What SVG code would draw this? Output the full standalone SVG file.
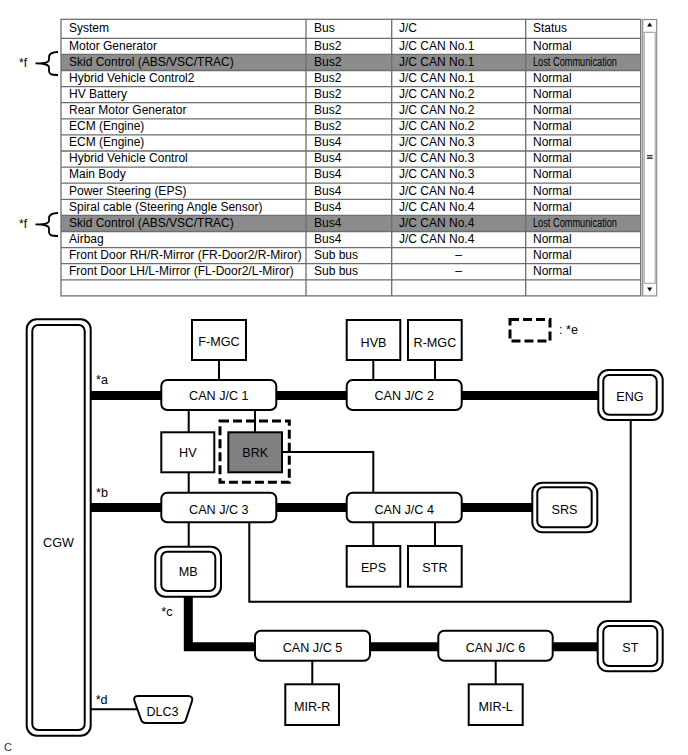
<svg xmlns="http://www.w3.org/2000/svg" width="688" height="755" viewBox="0 0 688 755">
<style>
.t{font-family:"Liberation Sans",Arial,sans-serif;font-size:12px;fill:#000}
.lc{font-size:12px}
.n{font-family:"Liberation Sans",Arial,sans-serif;font-size:12.6px;fill:#000;text-anchor:middle}
.lb{font-family:"Liberation Sans",Arial,sans-serif;font-size:12.6px;fill:#000}
.box{fill:#fff;stroke:#000;stroke-width:2}
.bus{stroke:#000;stroke-width:9;fill:none}
.wire{stroke:#000;stroke-width:2;fill:none}
.grid{stroke:#6e6e6e;stroke-width:1.3;fill:none}
.dash{fill:none;stroke:#000;stroke-width:3;stroke-dasharray:9 4}
.brace{fill:none;stroke:#000;stroke-width:1.8}
</style>

<g id="table">
  <rect x="61" y="19.3" width="579.7" height="276.6" fill="#fff"/>
  <rect x="61" y="54.4" width="579.7" height="16.1" fill="#8c8c8c"/>
  <rect x="61" y="215.4" width="579.7" height="16.1" fill="#8c8c8c"/>
  <g class="grid">
    <rect x="61" y="19.3" width="579.7" height="276.6"/>
    <path d="M61 38.3H640.7M61 54.4H640.7M61 70.5H640.7M61 86.6H640.7M61 102.7H640.7M61 118.8H640.7M61 134.9H640.7M61 151H640.7M61 167.1H640.7M61 183.2H640.7M61 199.3H640.7M61 215.4H640.7M61 231.5H640.7M61 247.6H640.7M61 263.7H640.7M61 279.8H640.7"/>
    <path d="M306 19.3V295.9M391.7 19.3V295.9M525.7 19.3V295.9"/>
  </g>
  <g class="t">
    <text x="69" y="32">System</text><text x="314" y="32">Bus</text><text x="399" y="32">J/C</text><text x="533" y="32">Status</text>
    <text x="69" y="49.6">Motor Generator</text><text x="314" y="49.6">Bus2</text><text x="399" y="49.6">J/C CAN No.1</text><text x="533" y="49.6">Normal</text>
    <text x="69" y="65.7">Skid Control (ABS/VSC/TRAC)</text><text x="314" y="65.7">Bus2</text><text x="399" y="65.7">J/C CAN No.1</text><text class="lc" x="533" y="65.7" textLength="84" lengthAdjust="spacingAndGlyphs">Lost Communication</text>
    <text x="69" y="81.8">Hybrid Vehicle Control2</text><text x="314" y="81.8">Bus2</text><text x="399" y="81.8">J/C CAN No.1</text><text x="533" y="81.8">Normal</text>
    <text x="69" y="97.9">HV Battery</text><text x="314" y="97.9">Bus2</text><text x="399" y="97.9">J/C CAN No.2</text><text x="533" y="97.9">Normal</text>
    <text x="69" y="114">Rear Motor Generator</text><text x="314" y="114">Bus2</text><text x="399" y="114">J/C CAN No.2</text><text x="533" y="114">Normal</text>
    <text x="69" y="130.1">ECM (Engine)</text><text x="314" y="130.1">Bus2</text><text x="399" y="130.1">J/C CAN No.2</text><text x="533" y="130.1">Normal</text>
    <text x="69" y="146.2">ECM (Engine)</text><text x="314" y="146.2">Bus4</text><text x="399" y="146.2">J/C CAN No.3</text><text x="533" y="146.2">Normal</text>
    <text x="69" y="162.3">Hybrid Vehicle Control</text><text x="314" y="162.3">Bus4</text><text x="399" y="162.3">J/C CAN No.3</text><text x="533" y="162.3">Normal</text>
    <text x="69" y="178.4">Main Body</text><text x="314" y="178.4">Bus4</text><text x="399" y="178.4">J/C CAN No.3</text><text x="533" y="178.4">Normal</text>
    <text x="69" y="194.5">Power Steering (EPS)</text><text x="314" y="194.5">Bus4</text><text x="399" y="194.5">J/C CAN No.4</text><text x="533" y="194.5">Normal</text>
    <text x="69" y="210.6">Spiral cable (Steering Angle Sensor)</text><text x="314" y="210.6">Bus4</text><text x="399" y="210.6">J/C CAN No.4</text><text x="533" y="210.6">Normal</text>
    <text x="69" y="226.7">Skid Control (ABS/VSC/TRAC)</text><text x="314" y="226.7">Bus4</text><text x="399" y="226.7">J/C CAN No.4</text><text class="lc" x="533" y="226.7" textLength="84" lengthAdjust="spacingAndGlyphs">Lost Communication</text>
    <text x="69" y="242.8">Airbag</text><text x="314" y="242.8">Bus4</text><text x="399" y="242.8">J/C CAN No.4</text><text x="533" y="242.8">Normal</text>
    <text x="69" y="258.9">Front Door RH/R-Mirror (FR-Door2/R-Miror)</text><text x="314" y="258.9">Sub bus</text><text x="458.7" y="258.9" text-anchor="middle">–</text><text x="533" y="258.9">Normal</text>
    <text x="69" y="275">Front Door LH/L-Mirror (FL-Door2/L-Miror)</text><text x="314" y="275">Sub bus</text><text x="458.7" y="275" text-anchor="middle">–</text><text x="533" y="275">Normal</text>
  </g>
  <g id="scrollbar">
    <rect x="642.7" y="19.5" width="14" height="276.4" fill="#fff" stroke="#8a8a8a" stroke-width="1.2"/>
    <rect x="644.2" y="32.3" width="11" height="251" fill="#fff" stroke="#9a9a9a" stroke-width="1"/>
    <path d="M649.7 22.5L647.2 26.5H652.2Z" fill="#000"/>
    <path d="M649.7 291.5L647.2 287.5H652.2Z" fill="#000"/>
    <text x="649.7" y="160" font-family="DejaVu Sans,sans-serif" font-size="9" text-anchor="middle">≡</text>
  </g>
</g>

<g id="brace-f1">
  <path class="brace" d="M58 52C51 52 49 54 49 57.5V59.5C49 62 47 63.2 35.5 63.4C47 63.6 49 65 49 67.5V71C49 74 51 75 58 75"/>
  <text class="t" x="19" y="67">*f</text>
</g>
<g id="brace-f2">
  <path class="brace" d="M58 213C51 213 49 215 49 218.5V220.5C49 223 47 224.2 35.5 224.4C47 224.6 49 226 49 228.5V232C49 235 51 236 58 236"/>
  <text class="t" x="19" y="228">*f</text>
</g>

<g id="connectors">
  <path class="bus" d="M90.7 395.5H161.3M276.3 395.5H346.7M461.7 395.5H598.3"/>
  <path class="bus" d="M90.7 507.5H161.3M276.3 507.5H346.7M461.7 507.5H532.3"/>
  <path class="bus" d="M188.3 596.7V646.7H255M370 646.7H438.3M552.7 646.7H597.7"/>
  <path class="wire" d="M219 360V380M373.3 360V380M435 360V380"/>
  <path class="wire" d="M188.7 410V432.3M255 410V432.3M188.7 472.3V492.7"/>
  <path class="wire" d="M282 452H373.3V492.7"/>
  <path class="wire" d="M630.7 420V601.7H249.3V522.3"/>
  <path class="wire" d="M373.3 522.3V546M435 522.3V546M188.7 522.3V546.7"/>
  <path class="wire" d="M312.3 660.7V684.3M495.7 660.7V684.3"/>
  <path class="wire" d="M90.7 709.3H137"/>
</g>

<g id="cgw">
  <rect class="box" x="26.7" y="319.3" width="64" height="416.4" rx="10"/>
  <rect class="box" x="32.3" y="325" width="52.4" height="405" rx="6"/>
  <text class="n" x="58.5" y="547">CGW</text>
</g>
<g id="labels">
  <text class="lb" x="96" y="384">*a</text>
  <text class="lb" x="96" y="497">*b</text>
  <text class="lb" x="161.3" y="616">*c</text>
  <text class="lb" x="95.7" y="703.5">*d</text>
</g>
<g id="fmgc"><rect class="box" x="192" y="320" width="54" height="40"/><text class="n" x="219" y="346">F-MGC</text></g>
<g id="hvb"><rect class="box" x="346.7" y="320" width="53.6" height="40"/><text class="n" x="373.5" y="346.5">HVB</text></g>
<g id="rmgc"><rect class="box" x="408" y="320" width="53.7" height="40"/><text class="n" x="434.9" y="346.5">R-MGC</text></g>
<g id="canjc1"><rect class="box" x="161.3" y="380" width="115" height="30" rx="6"/><text class="n" x="218.8" y="400">CAN J/C 1</text></g>
<g id="canjc2"><rect class="box" x="346.7" y="380" width="115" height="30" rx="6"/><text class="n" x="404.2" y="400">CAN J/C 2</text></g>
<g id="eng">
  <rect class="box" x="598.3" y="370" width="64.4" height="50" rx="10"/>
  <rect class="box" x="603.3" y="375" width="53.4" height="39.7" rx="6"/>
  <text class="n" x="630" y="401">ENG</text>
</g>
<g id="hv"><rect class="box" x="161.3" y="432.3" width="53" height="40"/><text class="n" x="187.8" y="456.5">HV</text></g>
<g id="brk">
  <rect x="228.3" y="432.3" width="53.7" height="40" fill="#808080" stroke="#000" stroke-width="2"/>
  <text class="n" x="255.2" y="456.5">BRK</text>
  <rect class="dash" x="220" y="421" width="69.3" height="61.3"/>
</g>
<g id="canjc3"><rect class="box" x="161.3" y="492.7" width="115" height="29.6" rx="6"/><text class="n" x="218.8" y="513.5">CAN J/C 3</text></g>
<g id="canjc4"><rect class="box" x="346.7" y="492.7" width="115" height="29.6" rx="6"/><text class="n" x="404.2" y="513.5">CAN J/C 4</text></g>
<g id="srs">
  <rect class="box" x="532.3" y="482.7" width="65" height="49.6" rx="10"/>
  <rect class="box" x="537.3" y="487.3" width="54.4" height="40" rx="6"/>
  <text class="n" x="564.5" y="514">SRS</text>
</g>
<g id="eps"><rect class="box" x="346.7" y="546" width="53.6" height="40.7"/><text class="n" x="373.5" y="572">EPS</text></g>
<g id="str"><rect class="box" x="408" y="546" width="53.7" height="40.7"/><text class="n" x="434.9" y="572">STR</text></g>
<g id="mb">
  <rect class="box" x="155.3" y="546.7" width="65.7" height="50" rx="10"/>
  <rect class="box" x="161.3" y="551.7" width="54" height="39.3" rx="6"/>
  <text class="n" x="188.3" y="576">MB</text>
</g>
<g id="canjc5"><rect class="box" x="255" y="630.7" width="115" height="30" rx="6"/><text class="n" x="312.5" y="652">CAN J/C 5</text></g>
<g id="canjc6"><rect class="box" x="438.3" y="630.7" width="114.4" height="30" rx="6"/><text class="n" x="495.5" y="652">CAN J/C 6</text></g>
<g id="st">
  <rect class="box" x="597.7" y="621" width="65" height="50.3" rx="10"/>
  <rect class="box" x="603.3" y="626" width="54" height="40" rx="6"/>
  <text class="n" x="630.3" y="652">ST</text>
</g>
<g id="mirr"><rect class="box" x="285.3" y="684.3" width="53.7" height="40.7"/><text class="n" x="312.2" y="710.5">MIR-R</text></g>
<g id="mirl"><rect class="box" x="468.7" y="684.3" width="54" height="40.7"/><text class="n" x="495.7" y="710.5">MIR-L</text></g>
<g id="dlc3">
  <path class="box" d="M138 696H188Q193.5 696 192 701L186 719.5Q185 723 181 723H146Q142 723 141 719.5L134.5 701Q133 696 138 696Z"/>
  <text class="n" x="162.5" y="716">DLC3</text>
</g>
<g id="legend">
  <rect class="dash" x="510" y="319.5" width="40" height="21.5"/>
  <text class="lb" x="559" y="334">: *e</text>
</g>
<text x="4" y="751" font-family="Liberation Sans,Arial,sans-serif" font-size="11" fill="#333">C</text>
</svg>
